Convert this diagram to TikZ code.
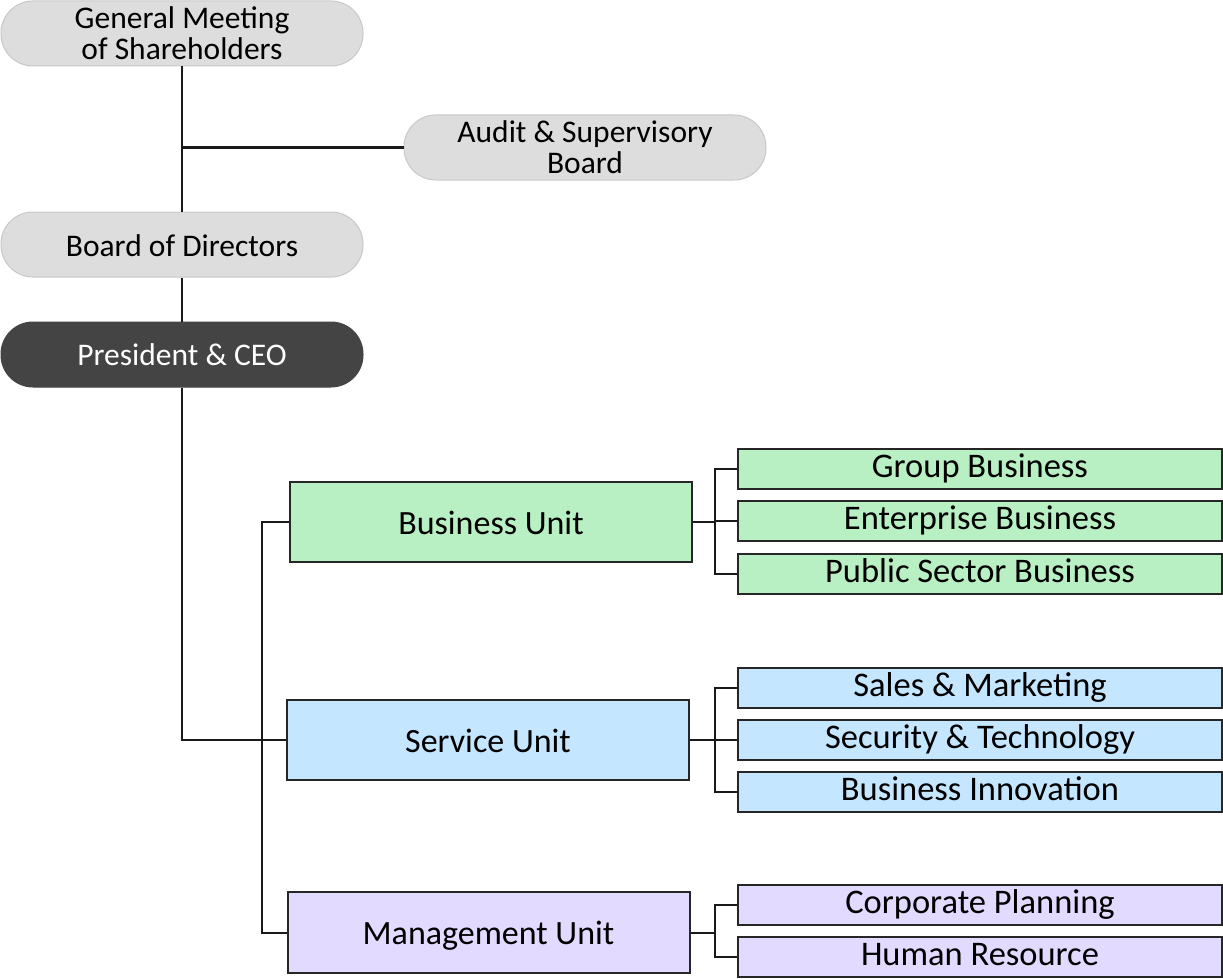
\documentclass[tikz,border=0pt]{standalone}
\usepackage{fontspec}
\setmainfont{Carlito}
\definecolor{pillgray}{HTML}{DDDDDD}
\definecolor{pillline}{HTML}{C8C8C8}
\definecolor{ceodark}{HTML}{444444}
\definecolor{bizgreen}{HTML}{B8F0C4}
\definecolor{servblue}{HTML}{C4E6FF}
\definecolor{mgmtlilac}{HTML}{E2DAFF}
\tikzset{
  pill/.style={draw=pillline, fill=pillgray, line width=1pt, rounded corners=32pt, minimum width=362pt, minimum height=65pt, align=center, font=\fontsize{31.5}{31}\selectfont},
  unitbox/.style={draw=black!85, line width=2pt, minimum width=402pt, minimum height=80pt, text height=24pt, text depth=0pt, font=\fontsize{34}{36}\selectfont},
  subbox/.style={draw=black!85, line width=1.6pt, minimum width=484pt, minimum height=40pt, inner sep=0pt, text height=16pt, text depth=0pt, font=\fontsize{34.5}{36}\selectfont},
  link/.style={line width=2pt, black!90}
}
\begin{document}
\begin{tikzpicture}[x=1pt, y=-1pt]
\useasboundingbox (0, 0) rectangle (1223, 979);
\node [pill] (gms) at (182, 33.5) {General Meeting\\of Shareholders};
\node [pill] (audit) at (585, 147.5) {Audit \& Supervisory\\Board};
\node [pill, text height=23pt, text depth=0pt] (bod) at (182, 244.5) {Board of Directors};
\node [pill, fill=ceodark, draw=ceodark, text=white, text height=22pt, text depth=0pt] (ceo) at (182, 354.5) {President \& CEO};
\node [unitbox, fill=bizgreen] (bu) at (491, 522) {Business Unit};
\node [unitbox, fill=servblue] (su) at (488, 740) {Service Unit};
\node [unitbox, fill=mgmtlilac, minimum height=81pt] (mu) at (488.5, 932.5) {Management Unit};
\foreach \y/\n/\t in {469/gb/Group Business, 521/eb/Enterprise Business, 574/pb/Public Sector Business}{\node [subbox, fill=bizgreen] (\n) at (980, \y) {\t};}
\foreach \y/\n/\t in {688/sm/Sales \& Marketing, 740/st/Security \& Technology, 792/bi/Business Innovation}{\node [subbox, fill=servblue] (\n) at (980, \y) {\t};}
\foreach \y/\n/\t in {905/cp/Corporate Planning, 957/hr/Human Resource}{\node [subbox, fill=mgmtlilac] (\n) at (980, \y) {\t};}
\coordinate (spine) at (262, 0);
\coordinate (fork) at (715, 0);
\draw [link] (gms.south) -- (bod.north);
\draw [link] (audit.west) -- (audit.west -| gms.south);
\draw [link] (bod.south) -- (ceo.north);
\draw [link] (ceo.south) |- (su.west);
\draw [link] (bu.west) -- (bu.west -| spine) -- (mu.west -| spine) -- (mu.west);
\draw [link] (bu.east) -- (bu.east -| fork);
\draw [link] (gb.west) -- (gb.west -| fork) -- (pb.west -| fork) -- (pb.west);
\draw [link] (eb.west) -- (eb.west -| fork);
\draw [link] (su.east) -- (su.east -| fork);
\draw [link] (sm.west) -- (sm.west -| fork) -- (bi.west -| fork) -- (bi.west);
\draw [link] (st.west) -- (st.west -| fork);
\draw [link] (mu.east) -- (mu.east -| fork);
\draw [link] (cp.west) -- (cp.west -| fork) -- (hr.west -| fork) -- (hr.west);
\end{tikzpicture}
\end{document}
